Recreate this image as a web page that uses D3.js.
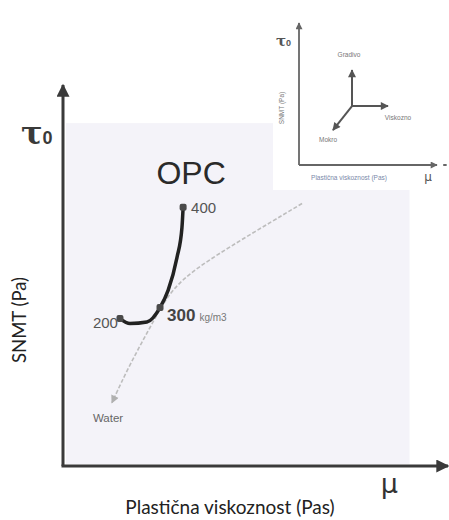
<!DOCTYPE html>
<html>
<head>
<meta charset="utf-8">
<script src="https://cdn.jsdelivr.net/npm/d3@7"></script>
<style>
html,body{margin:0;padding:0;background:#fff;}
svg{display:block;}
</style>
</head>
<body>
<svg id="chart" width="449" height="520"></svg>
<script>
// ---- data (abstract units, 0-100 on both main axes) ----
const cementLabels = ["200", "300", "400"];
const cementIndex = [0, 3, 7];
const opcMu   = [14.8, 17.4, 21.8, 25.2, 27.3, 29.6, 30.9, 31.2];
const opcTau  = [38.7, 37.4, 37.8, 41.6, 46.1, 54.7, 62.6, 67.9];
const waterMu  = [62.1, 46.0, 34.8, 27.8, 22.6, 17.4, 12.7];
const waterTau = [68.9, 59.2, 52.1, 46.1, 36.3, 26.8, 16.6];
// inset (0-10 units)
const insetDirs = ["Gradivo", "Viskozno", "Mokro"];
const insetTipX = [3.84, 6.45, 2.46];
const insetTipY = [6.69, 4.15, 2.46];
const insetOrigin = [3.84, 4.15];

const svg = d3.select("#chart");
const x = d3.scaleLinear().domain([0, 100]).range([63, 448]);
const y = d3.scaleLinear().domain([0, 100]).range([466, 85]);

const defs = svg.append("defs");
function marker(id, color, w, h) {
  defs.append("marker").attr("id", id).attr("viewBox", "0 0 10 10")
    .attr("refX", 9).attr("refY", 5).attr("markerUnits", "userSpaceOnUse")
    .attr("markerWidth", w).attr("markerHeight", h).attr("orient", "auto")
    .append("path").attr("d", "M0,0 L10,5 L0,10 z").attr("fill", color);
}
marker("bigArrow", "#3a3a3a", 18, 13);
marker("waterArrow", "#b0b0b0", 9, 8);
marker("smallArrow", "#666", 10, 7);
marker("dirArrow", "#555", 11, 8);

// plot background
svg.append("rect").attr("x", x(0) + 3).attr("y", y(90))
  .attr("width", x(90) - x(0) - 3).attr("height", y(0) - y(90) - 2)
  .attr("fill", "#f4f3f9");

// main axes
svg.append("line").attr("x1", x(0)).attr("y1", y(0)).attr("x2", x(0)).attr("y2", y(100))
  .attr("stroke", "#3a3a3a").attr("stroke-width", 3).attr("marker-end", "url(#bigArrow)");
svg.append("line").attr("x1", x(0) - 1.5).attr("y1", y(0)).attr("x2", x(100)).attr("y2", y(0))
  .attr("stroke", "#3a3a3a").attr("stroke-width", 3).attr("marker-end", "url(#bigArrow)");

// axis symbols & titles
svg.append("text").attr("x", 21).attr("y", 144).attr("font-family", "DejaVu Serif")
  .attr("font-size", 32).attr("font-weight", "bold").attr("fill", "#3a3a3a").text("τ")
  .append("tspan").attr("font-size", 18).attr("font-family", "Liberation Sans").text("0");
svg.append("text").attr("x", 398).attr("y", 493).attr("text-anchor", "end")
  .attr("font-family", "DejaVu Sans").attr("font-size", 27).attr("fill", "#333").text("μ");
svg.append("text").attr("transform", "translate(26,320) rotate(-90)").attr("text-anchor", "middle")
  .attr("font-family", "Lato").attr("font-size", 18.5).attr("fill", "#222").text("SNMT (Pa)");
svg.append("text").attr("x", 230).attr("y", 514).attr("text-anchor", "middle")
  .attr("font-family", "Lato").attr("font-size", 19).attr("fill", "#222").text("Plastična viskoznost (Pas)");

// water direction (dashed grey)
const waterPts = waterMu.map((m, i) => [x(m), y(waterTau[i])]);
svg.append("path").attr("d", d3.line().curve(d3.curveBasis)(waterPts))
  .attr("fill", "none").attr("stroke", "#bdbdbd").attr("stroke-width", 1.6)
  .attr("stroke-dasharray", "4,2").attr("marker-end", "url(#waterArrow)");
svg.append("text").attr("x", 108).attr("y", 422).attr("text-anchor", "middle")
  .attr("font-family", "Liberation Sans").attr("font-size", 11.5).attr("fill", "#666").text("Water");

// OPC curve
const opcPts = opcMu.map((m, i) => [x(m), y(opcTau[i])]);
svg.append("path").attr("d", d3.line().curve(d3.curveMonotoneX)(opcPts))
  .attr("fill", "none").attr("stroke", "#222").attr("stroke-width", 3.5).attr("stroke-linecap", "round");
svg.selectAll("rect.pt").data(cementIndex).enter().append("rect").attr("class", "pt")
  .attr("x", d => x(opcMu[d]) - 3.5).attr("y", d => y(opcTau[d]) - 3.5)
  .attr("width", 7).attr("height", 7).attr("rx", 2).attr("fill", "#4a4a4a");

svg.append("text").attr("x", x(opcMu[7]) + 8).attr("y", 184).attr("text-anchor", "middle")
  .attr("font-family", "Liberation Sans").attr("font-size", 32).attr("fill", "#2a2a2a").text("OPC");

// cement labels
svg.append("text").attr("x", x(opcMu[cementIndex[0]]) - 2).attr("y", y(opcTau[cementIndex[0]]) + 9)
  .attr("text-anchor", "end").attr("font-family", "Liberation Sans").attr("font-size", 15)
  .attr("fill", "#555").text(cementLabels[0]);
const lab300 = svg.append("text").attr("x", x(opcMu[cementIndex[1]]) + 7).attr("y", y(opcTau[cementIndex[1]]) + 13)
  .attr("font-family", "Liberation Sans").attr("font-size", 17).attr("font-weight", "bold")
  .attr("fill", "#444").text(cementLabels[1]);
lab300.append("tspan").attr("font-size", 10).attr("font-weight", "normal").attr("fill", "#777").attr("dx", 4).text("kg/m3");
svg.append("text").attr("x", x(opcMu[cementIndex[2]]) + 8).attr("y", y(opcTau[cementIndex[2]]) + 6)
  .attr("font-family", "Liberation Sans").attr("font-size", 15)
  .attr("fill", "#555").text(cementLabels[2]);

// ---- inset ----
const ix = d3.scaleLinear().domain([0, 10]).range([299, 437]);
const iy = d3.scaleLinear().domain([0, 10]).range([165, 23]);
svg.append("rect").attr("x", 273).attr("y", 6).attr("width", 176).attr("height", 184).attr("fill", "#fff");
svg.append("line").attr("x1", ix(0)).attr("y1", iy(0)).attr("x2", ix(0)).attr("y2", iy(10))
  .attr("stroke", "#666").attr("stroke-width", 1.8).attr("marker-end", "url(#smallArrow)");
svg.append("line").attr("x1", ix(0)).attr("y1", iy(0)).attr("x2", ix(10)).attr("y2", iy(0))
  .attr("stroke", "#666").attr("stroke-width", 1.8).attr("marker-end", "url(#smallArrow)");
svg.append("line").attr("x1", ix(10.45)).attr("y1", iy(0)).attr("x2", ix(10.7)).attr("y2", iy(0))
  .attr("stroke", "#666").attr("stroke-width", 2);
svg.append("text").attr("x", 276).attr("y", 46).attr("font-family", "DejaVu Serif")
  .attr("font-size", 15).attr("font-weight", "bold").attr("fill", "#555").text("τ")
  .append("tspan").attr("font-size", 9).attr("font-family", "Liberation Sans").text("0");
svg.append("text").attr("x", 428).attr("y", 181).attr("text-anchor", "middle")
  .attr("font-family", "DejaVu Sans").attr("font-size", 12).attr("fill", "#555").text("μ");
svg.append("text").attr("x", 349).attr("y", 180).attr("text-anchor", "middle")
  .attr("font-family", "Liberation Sans").attr("font-size", 6.5).attr("fill", "#7a88a8").text("Plastična viskoznost (Pas)");
svg.append("text").attr("transform", "translate(284,108) rotate(-90)").attr("text-anchor", "middle")
  .attr("font-family", "Liberation Sans").attr("font-size", 6.5).attr("fill", "#777").text("SNMT (Pa)");

insetDirs.forEach((name, i) => {
  svg.append("line").attr("x1", ix(insetOrigin[0])).attr("y1", iy(insetOrigin[1]))
    .attr("x2", ix(insetTipX[i])).attr("y2", iy(insetTipY[i]))
    .attr("stroke", "#555").attr("stroke-width", 2).attr("marker-end", "url(#dirArrow)");
});
const dirLabelPos = [[349, 57], [398, 120], [328, 142]];
insetDirs.forEach((name, i) => {
  svg.append("text").attr("x", dirLabelPos[i][0]).attr("y", dirLabelPos[i][1]).attr("text-anchor", "middle")
    .attr("font-family", "Liberation Sans").attr("font-size", 6.5).attr("fill", "#777").text(name);
});
</script>
</body>
</html>
